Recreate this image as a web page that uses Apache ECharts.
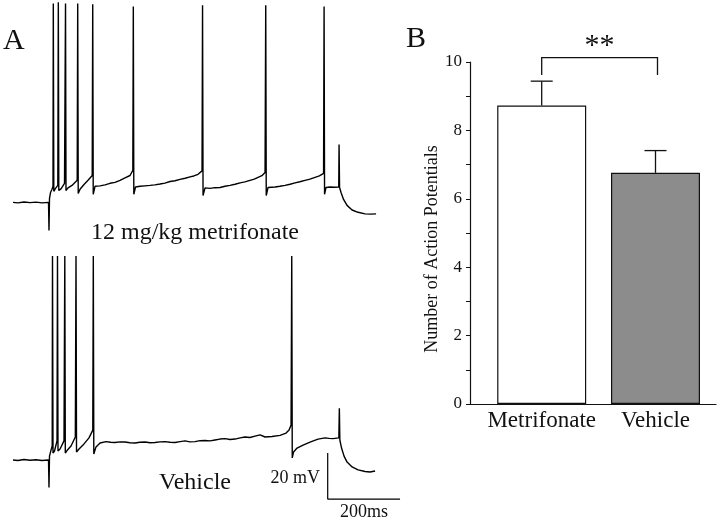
<!DOCTYPE html>
<html>
<head>
<meta charset="utf-8">
<script src="https://cdn.jsdelivr.net/npm/echarts@6/dist/echarts.min.js"></script>
<style>
html,body{margin:0;padding:0;background:#fff;}
#chart{width:720px;height:521px;}
</style>
</head>
<body>
<div id="chart"></div>
<script>
// ---- Panel A: membrane potential traces, [time (ms), potential (mV)] ----
const metrifonateTrace = [
  [0,-60],[13.8,-60.2],[30.4,-59.8],[47,-60.1],[63.6,-59.9],[80.2,-60.2],[98.2,-60],
  [99.5,-72.2],[100.9,-58.3],[103.7,-55.7],[107.8,-54.3],[110.6,-53],
  [111.4,26.5],[112.8,-55.2],[117.5,-53.9],[123.9,-52.6],
  [125.3,27],[126.6,-54.8],[132.7,-54.1],[142.4,-51.7],
  [145.2,26.5],[146.5,-54.8],[152.1,-53.7],[163.1,-52.6],[177.5,-50.4],
  [178.9,26.5],[180.3,-56.1],[185.3,-54.3],[196.3,-52.2],[207.4,-50.4],[219,-48.3],
  [220.4,26.1],[221.8,-56.5],[226.7,-53],[240.6,-52.8],[254.4,-52.4],[268.2,-51.7],[282,-51.3],[295.9,-50.4],[309.7,-49.3],[323.5,-48.3],[331.3,-46.1],
  [332.6,25.2],[334,-56.5],[338.7,-53.3],[351.2,-53],[365,-52.8],[378.8,-52.6],[392,-52.4],[406.5,-52],[420,-51.6],[434.1,-50.9],[448,-50.6],[461.8,-50],[476,-49.5],[489.4,-48.9],[500,-48.5],[511.5,-47.8],[522.6,-46.3],
  [524,25.7],[525.4,-57],[530.9,-53.7],[544.7,-53.9],[558,-53.6],[572.4,-53.5],[586,-53],[600,-52.6],[614,-52.1],[627.7,-51.5],[641,-51.1],[655.3,-50.4],[667,-49.9],[677.5,-49.1],[688,-48.4],[696.8,-47],
  [698.7,25.7],[700.1,-57],[705.1,-53.5],[724.4,-53.3],[738,-53],[752.1,-52.6],[766,-52.1],[779.7,-51.5],[793,-51],[807.4,-50.4],[821,-49.9],[835,-49.1],[847,-48.5],[858.6,-47.4],
  [860,25.2],[861.3,-56.5],[865.4,-53.5],[876.5,-53.3],[888,-53.4],[900.5,-53.3],
  [901.4,-34.8],[902.8,-53.5],[906.9,-55.7],[913.8,-58.7],[923.5,-61.3],[937.4,-63.3],[954,-64.3],[973.3,-65],[988,-65.1],[1003.7,-65]
];
const vehicleTrace = [
  [0,-60],[13.8,-60.2],[30.4,-59.8],[47,-60.1],[63.6,-59.9],[80.2,-60.2],[98.2,-60],
  [99.5,-72],[100.9,-58.3],[105.1,-55.7],[108.4,-53.9],
  [109.2,28.7],[110.6,-57],[114.7,-56.1],[121.7,-51.7],
  [123,28.7],[124.4,-56.1],[130,-55.2],[141,-51.7],
  [143.2,28.7],[144.6,-57],[149.3,-55.9],[160.4,-53.9],[172.3,-50],
  [174.2,28.7],[175.6,-56.5],[182.5,-55.2],[196.3,-53],[210.1,-50.4],[220.6,-47],
  [222,28.7],[223.4,-57.4],[229.5,-54.3],[240.6,-52.6],[257.1,-52],[270,-52.3],[282,-52.4],[296,-52.1],[309.7,-52.2],[323,-52.5],[337.3,-52.6],[351,-52.3],[365,-52.2],[379,-52.5],[392.6,-52.4],[406,-52.1],[420.3,-52],[434,-52.3],[447.9,-52.4],[462,-52],[475.6,-51.7],[489,-52.1],[503.2,-52],[517,-51.6],[530.9,-51.5],[545,-51.7],[558.5,-51.3],[572,-50.9],[586.2,-50.7],[600,-51.1],[613.8,-50.9],[628,-50.4],[641.5,-50],[655,-50.2],[669.1,-49.6],[683,-49.1],[696.8,-50],[716.1,-49.8],[738.3,-49.3],[754.9,-48.3],[763.2,-47],[768.7,-44.8],
  [770.6,28.7],[772,-59.1],[775.6,-56.5],[785.3,-54.8],[801.9,-53.5],[821.2,-52.2],[843.3,-50.9],[862.7,-50.4],[874,-50.6],[884.8,-50.7],[900.8,-50.4],
  [902.2,-37.5],[903.6,-51.3],[908.3,-54.8],[915.2,-58.3],[923.5,-60.9],[937.4,-63],[954,-64.3],[973.3,-65],[987,-65.2],[1001,-64.8]
];
// scale bar: 20 mV vertical, 200 ms horizontal
const scaleBar = [[870,-57],[870,-77],[1070,-77]];
const traceLabels = ['12 mg/kg metrifonate', 'Vehicle'];
const scaleLabels = ['20 mV', '200ms'];

// ---- Panel B: bar chart ----
const categories = ['Metrifonate', 'Vehicle'];
const meanAP = [8.73, 6.76];
const errTop = [9.44, 7.41];
const yTicks = [0, 2, 4, 6, 8, 10];
const bracket = { y: 10.13, legBottom: 9.62, label: '**', labelY: 10.62 };

const SERIF = "'Liberation Serif','Times New Roman',Times,serif";
const chart = echarts.init(document.getElementById('chart'), null, {renderer: 'canvas'});

const option = {
  animation: false,
  backgroundColor: '#fff',
  grid: [
    {left: 13, top: 0, width: 397.9, height: 236.9},
    {left: 13, top: 253, width: 397.9, height: 253},
    {left: 470, top: 62, width: 246, height: 342},
    {left: 484.8, top: 62, width: 227.6, height: 342}
  ],
  xAxis: [
    {gridIndex: 0, type: 'value', min: 0, max: 1100, show: false},
    {gridIndex: 1, type: 'value', min: 0, max: 1100, show: false},
    {gridIndex: 2, type: 'value', min: 0, max: 1,
      axisLine: {show: true, lineStyle: {color: '#111', width: 1.2}},
      axisTick: {show: false}, axisLabel: {show: false}, splitLine: {show: false}},
    {gridIndex: 3, type: 'category', data: categories,
      axisLine: {show: false}, axisTick: {show: false},
      axisLabel: {interval: 0, fontFamily: SERIF, fontSize: 23, color: '#111', margin: 5}}
  ],
  yAxis: [
    {gridIndex: 0, type: 'value', min: -75, max: 28, show: false},
    {gridIndex: 1, type: 'value', min: -80, max: 30, show: false},
    {gridIndex: 2, type: 'value', min: yTicks[0], max: yTicks[yTicks.length - 1], interval: 2,
      name: 'Number of Action Potentials', nameLocation: 'middle', nameGap: 28,
      nameTextStyle: {fontFamily: SERIF, fontSize: 18, color: '#111', padding: [0, 32, 0, 0]},
      axisLine: {show: true, lineStyle: {color: '#111', width: 1.2}},
      axisTick: {show: true, length: 4, lineStyle: {color: '#111'}},
      minorTick: {show: true, splitNumber: 2, length: 4, lineStyle: {color: '#111'}},
      axisLabel: {fontFamily: SERIF, fontSize: 17, color: '#111', margin: 8},
      splitLine: {show: false}},
    {gridIndex: 3, type: 'value', min: 0, max: 10, show: false}
  ],
  series: [
    {type: 'line', xAxisIndex: 0, yAxisIndex: 0, data: metrifonateTrace, showSymbol: false,
      lineStyle: {color: '#000', width: 1.4}, clip: false},
    {type: 'line', xAxisIndex: 1, yAxisIndex: 1, data: vehicleTrace, showSymbol: false,
      lineStyle: {color: '#000', width: 1.4}, clip: false},
    {type: 'line', xAxisIndex: 1, yAxisIndex: 1, data: scaleBar, showSymbol: false,
      lineStyle: {color: '#000', width: 1.2}, clip: false},
    {type: 'bar', xAxisIndex: 3, yAxisIndex: 3, barWidth: 89,
      data: meanAP.map((v, i) => ({value: v, itemStyle: {color: i === 0 ? '#ffffff' : '#8c8c8c', borderColor: '#111', borderWidth: 1.2}}))},
    {type: 'custom', xAxisIndex: 3, yAxisIndex: 3, clip: false,
      data: meanAP.map((v, i) => [i, v, errTop[i]]),
      encode: {x: 0, y: [1, 2]},
      renderItem: function (params, api) {
        const a = api.coord([api.value(0), api.value(1)]);
        const b = api.coord([api.value(0), api.value(2)]);
        const st = {stroke: '#111', lineWidth: 1.3};
        return {type: 'group', children: [
          {type: 'line', shape: {x1: a[0], y1: a[1], x2: b[0], y2: b[1]}, style: st},
          {type: 'line', shape: {x1: b[0] - 11, y1: b[1], x2: b[0] + 11, y2: b[1]}, style: st}
        ]};
      }},
    {type: 'custom', xAxisIndex: 3, yAxisIndex: 3, clip: false,
      data: [[0, 1, bracket.y, bracket.legBottom, bracket.labelY]],
      encode: {x: [0, 1], y: [2, 3]},
      renderItem: function (params, api) {
        const p1 = api.coord([api.value(0), api.value(3)]);
        const p2 = api.coord([api.value(0), api.value(2)]);
        const p3 = api.coord([api.value(1), api.value(2)]);
        const p4 = api.coord([api.value(1), api.value(3)]);
        const lab = api.coord([api.value(0), api.value(4)]);
        return {type: 'group', children: [
          {type: 'polyline', shape: {points: [[p1[0], p1[1]], [p2[0], p2[1]], [p3[0] + 2, p3[1]], [p4[0] + 2, p4[1]]]},
            style: {stroke: '#111', lineWidth: 1.3, fill: null}},
          {type: 'text', x: (p2[0] + p3[0]) / 2 + 1, y: lab[1] + 5,
            style: {text: bracket.label, font: '30px ' + SERIF, fill: '#111', textAlign: 'center', textVerticalAlign: 'middle'}}
        ]};
      }}
  ],
  graphic: [
    {type: 'text', x: 3, y: 41, style: {text: 'A', font: '30px ' + SERIF, fill: '#111', textAlign: 'left', textVerticalAlign: 'middle'}},
    {type: 'text', x: 406, y: 39, style: {text: 'B', font: '30px ' + SERIF, fill: '#111', textAlign: 'left', textVerticalAlign: 'middle'}},
    {type: 'text', x: 195, y: 233, style: {text: traceLabels[0], font: '24px ' + SERIF, fill: '#111', textAlign: 'center', textVerticalAlign: 'middle'}},
    {type: 'text', x: 195, y: 483, style: {text: traceLabels[1], font: '24px ' + SERIF, fill: '#111', textAlign: 'center', textVerticalAlign: 'middle'}},
    {type: 'text', x: 320, y: 478, style: {text: scaleLabels[0], font: '18px ' + SERIF, fill: '#111', textAlign: 'right', textVerticalAlign: 'middle'}},
    {type: 'text', x: 364, y: 512, style: {text: scaleLabels[1], font: '18px ' + SERIF, fill: '#111', textAlign: 'center', textVerticalAlign: 'middle'}}
  ]
};
chart.setOption(option);
</script>
</body>
</html>
